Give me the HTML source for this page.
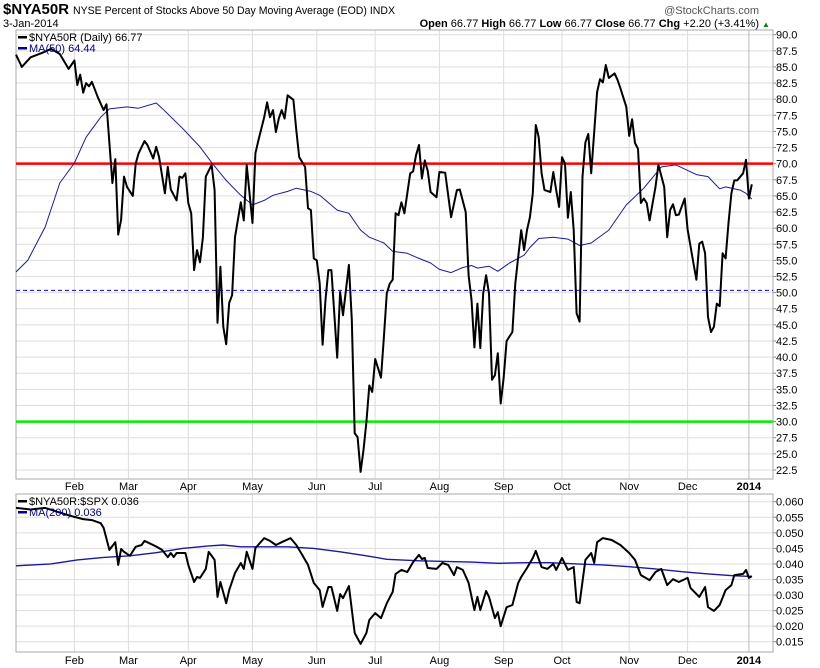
<!DOCTYPE html>
<html><head><meta charset="utf-8">
<style>
body{margin:0;background:#fff;}
svg{display:block;font-family:"Liberation Sans",sans-serif;}
</style></head>
<body>
<svg id="chart" width="820" height="668" viewBox="0 0 820 668" xmlns="http://www.w3.org/2000/svg">
<rect width="820" height="668" fill="#fff"/>
<g>
<text x="3" y="14" font-size="15" font-weight="bold" textLength="66" lengthAdjust="spacingAndGlyphs">$NYA50R</text>
<text x="73" y="14" font-size="11" textLength="322" lengthAdjust="spacingAndGlyphs">NYSE Percent of Stocks Above 50 Day Moving Average (EOD) INDX</text>
<text x="759" y="14" font-size="11" fill="#555" text-anchor="end">@StockCharts.com</text>
<text x="3" y="27" font-size="11">3-Jan-2014</text>
<text x="759" y="27" font-size="11" text-anchor="end"><tspan font-weight="bold">Open</tspan> 66.77 <tspan font-weight="bold">High</tspan> 66.77 <tspan font-weight="bold">Low</tspan> 66.77 <tspan font-weight="bold">Close</tspan> 66.77 <tspan font-weight="bold">Chg</tspan> +2.20 (+3.41%)</text>
<text x="762" y="27" font-size="8" fill="#080">▲</text>
</g>
<g id="main"></g>
<g id="lower"></g>
</svg>
<script>
// main panel data (trading-day index, value)
const mainDays=[0,2,5,9,12,15,18,20,21,22,23,24,25,26,28,30,31,33,34,35,36,37,38,40,41,42,44,45,47,48,49,51,52,53,55,56,57,58,59,60,61,62,63,64,65,67,68,69,70,71,72,73,74,75,77,78,79,81,82,83,85,86,87,88,89,90,91,92,93,95,96,97,99,100,101,102,103,104,105,106,107,108,110,111,112,114,115,116,117,118,119,120,121,122,123,125,126,127,128,129,130,131,132,133,135,136,137,138,139,140,141,142,144,145,147,149,151,152,154,155,156,157,158,159,160,161,162,163,164,165,166,167,168,170,171,172,173,174,175,176,177,178,179,180,181,183,184,185,186,187,188,189,190,191,192,193,194,195,196,197,199,200,201,202,203,205,206,207,209,210,211,212,213,214,215,216,217,219,220,222,223,224,225,226,227,229,230,232,233,234,235,236,237,238,239,240,241,242,243,244,245,246,247,249,250,251,252];
const mainVals=[86.9,85.0,86.5,87.2,87.8,87.0,84.7,86.0,82.2,83.8,81.0,82.5,82.0,82.7,80.3,78.3,79.2,67.0,70.7,59.0,61.3,68.0,66.4,65.0,70.0,71.6,73.5,72.9,70.8,72.6,71.0,65.4,69.5,66.0,64.3,68.0,67.8,68.5,63.9,62.3,53.5,56.6,54.7,58.6,68.0,69.8,65.9,45.3,54.0,44.7,42.0,48.4,49.6,58.6,64.0,61.2,69.8,60.8,71.6,73.6,77.2,79.5,77.2,78.3,74.9,77.0,78.3,77.0,80.6,79.9,75.2,71.0,69.5,63.1,62.8,55.3,55.0,51.4,41.9,48.9,53.5,53.5,39.9,50.1,46.5,54.3,45.8,28.2,27.6,22.2,25.6,29.9,35.6,34.6,39.7,36.8,43.1,49.9,51.4,52.0,62.3,62.0,64.0,62.3,68.5,68.8,71.3,72.9,67.7,70.5,68.9,65.6,64.8,68.7,68.6,61.7,65.9,66.0,62.5,52.7,48.9,41.5,48.3,41.4,49.9,52.7,49.9,36.5,37.2,40.6,32.8,36.7,42.5,43.9,51.4,55.5,59.7,56.6,59.7,61.7,65.4,76.0,74.1,68.5,65.9,65.6,68.7,65.9,63.3,71.0,70.0,61.6,65.6,59.7,46.8,45.5,68.0,73.3,74.6,68.5,81.1,83.1,82.6,85.3,83.3,84.0,83.0,81.7,78.8,74.3,76.9,73.2,72.3,63.9,64.6,63.9,61.2,66.4,69.8,66.4,58.6,62.8,63.7,62.0,62.1,64.6,59.8,54.6,52.0,57.6,57.9,56.1,46.2,43.9,44.7,48.3,47.9,56.1,55.3,60.8,65.4,67.4,67.4,68.5,70.6,64.6,66.8];
const maDays=[0,4,10,15,20,24,29,32,38,42,48,50,57,63,67,72,77,81,85,88,93,96,101,104,110,114,118,121,126,129,134,138,142,145,149,153,156,158,162,165,169,174,176,179,184,189,193,197,203,209,215,221,226,233,237,241,243,248,250,252];
const maVals=[53.2,55,60.2,67,70.1,74.1,77.2,78.5,78.8,78.6,79.4,78.6,75.5,72.6,70.2,67.4,65.1,63.6,64.3,65.1,65.7,66.2,65.7,65.1,62.8,62.3,59.7,58.6,57.7,56.4,56.1,55.3,54.6,53.6,53.1,53.9,54.2,53.8,54.1,53.3,54.6,55.8,57,58.4,58.6,58.3,57.3,57.7,59.7,63.6,66.2,69.5,69.8,68.3,68,66.1,66.4,65.9,65.4,64.5];
const mainTicks=["90.0","87.5","85.0","82.5","80.0","77.5","75.0","72.5","70.0","67.5","65.0","62.5","60.0","57.5","55.0","52.5","50.0","47.5","45.0","42.5","40.0","37.5","35.0","32.5","30.0","27.5","25.0","22.5"];
const refLines=[70,50.35,30];
// lower panel data
const lowDays=[0,5,10,15,20,23,26,29,30,32,34,35,36,37,39,41,43,44,46,48,50,52,53,54,55,58,59,61,62,63,65,66,68,69,70,72,73,75,77,78,79,81,82,85,87,89,91,94,96,98,100,102,104,105,107,108,110,111,112,114,116,118,120,121,123,125,127,129,130,132,134,136,138,139,140,141,144,146,148,150,151,153,155,157,158,159,161,162,164,165,166,168,170,172,173,175,177,178,180,182,184,185,187,189,191,192,193,195,197,198,199,201,204,207,210,212,214,217,219,221,223,225,227,230,231,234,236,237,239,241,243,245,246,249,250,251,252];
const lowVals=[0.058,0.0575,0.058,0.0565,0.0551,0.0544,0.0541,0.0531,0.0516,0.0445,0.047,0.0397,0.0448,0.0439,0.0426,0.0455,0.0461,0.0474,0.0465,0.0456,0.0445,0.0422,0.0435,0.0422,0.0435,0.0435,0.0397,0.0342,0.0358,0.0355,0.0384,0.0439,0.0413,0.0294,0.0342,0.0274,0.0316,0.0371,0.0403,0.0384,0.0439,0.0384,0.0451,0.0483,0.0474,0.0461,0.047,0.0483,0.0461,0.0429,0.0397,0.0339,0.0316,0.0262,0.0326,0.0326,0.0249,0.0303,0.029,0.0329,0.0178,0.0143,0.0178,0.022,0.0242,0.0226,0.0274,0.031,0.0368,0.0381,0.0374,0.0406,0.0429,0.0416,0.0419,0.0387,0.0384,0.0403,0.0397,0.0364,0.039,0.0381,0.0339,0.0252,0.0294,0.0252,0.0313,0.0294,0.0226,0.0245,0.02,0.0261,0.0268,0.0339,0.0358,0.0387,0.0419,0.0442,0.039,0.0384,0.04,0.0381,0.0419,0.0381,0.039,0.0278,0.0274,0.0413,0.0435,0.0403,0.047,0.0483,0.0477,0.0461,0.0435,0.0413,0.0364,0.0348,0.0374,0.0384,0.0332,0.0351,0.0342,0.0355,0.0323,0.0294,0.0326,0.0261,0.0249,0.0268,0.0316,0.0332,0.0364,0.0368,0.0381,0.0355,0.0361];
const lowMaDays=[0,12,21,30,39,48,57,66,71,77,84,93,102,111,120,127,138,156,165,174,183,192,201,210,219,228,237,246,252];
const lowMaVals=[0.0394,0.040,0.0413,0.0421,0.0426,0.0436,0.045,0.0458,0.0461,0.0455,0.0455,0.0455,0.045,0.0439,0.0426,0.0415,0.041,0.0406,0.0402,0.0404,0.0404,0.04,0.0397,0.0391,0.0384,0.0375,0.0368,0.0362,0.036];
const lowTicks=["0.060","0.055","0.050","0.045","0.040","0.035","0.030","0.025","0.020","0.015"];
// x axis
const monthLabels=["Feb","Mar","Apr","May","Jun","Jul","Aug","Sep","Oct","Nov","Dec","2014"];
const monthDays=[20,38.5,59,81,103,123,145,167,187,210,230,251];

const NS="http://www.w3.org/2000/svg";
const X0=16,X1=773,DX=2.92;
const xs=d=>X0+d*DX;
const yMain=v=>34.7+(90-v)*6.448;
const yLow=v=>501.7+(0.060-v)*3112;
function mk(tag,attrs,parent,text){const e=document.createElementNS(NS,tag);for(const k in attrs)e.setAttribute(k,attrs[k]);if(text!==undefined)e.textContent=text;parent.appendChild(e);return e;}

function panel(g,top,bottom,ticks,yf,labelY){
  // horizontal grid
  ticks.forEach(t=>{const y=yf(parseFloat(t));
    const l=mk('line',{x1:X0,x2:X1,y1:y,y2:y,stroke:'#dddddd','stroke-width':1},g);
    
    
    const tk=mk('line',{x1:X1,x2:X1+3,y1:y,y2:y,stroke:'#888'},g);
    
    
    const tx=mk('text',{x:X1+3,y:y+4,'font-size':11},g,t);
    
    
  });
  monthDays.forEach((d,i)=>{const x=xs(d);
    const l=mk('line',{x1:x,x2:x,y1:top,y2:bottom,stroke:i==monthDays.length-1?'#bbbbbb':'#dddddd'},g);
    
    
    const t=mk('text',{x:x,y:labelY,'font-size':11,'text-anchor':'middle','font-weight':i==monthDays.length-1?'bold':'normal'},g,monthLabels[i]);
    
    
  });
  const b=mk('rect',{x:X0,y:top,width:X1-X0,height:bottom-top,fill:'none',stroke:'#aaaaaa'},g);
  
  
}
function line(g,days,vals,yf,color,w,name){
  const p=days.map((d,i)=>(i?'L':'M')+xs(d).toFixed(1)+','+yf(vals[i]).toFixed(1)).join('');
  const e=mk('path',{d:p,fill:'none',stroke:color,'stroke-width':w,'stroke-linejoin':'round'},g);
  
  
}
const gm=document.getElementById('main');


panel(gm,30,479,mainTicks,yMain,490);
const rc=['#ff0000','#0000ff','#00ee00'];
refLines.forEach((v,i)=>{const y=yMain(v);
  const l=mk('line',{x1:X0,x2:X1,y1:y,y2:y,stroke:rc[i],'stroke-width':i==1?1:2.5,'stroke-dasharray':i==1?'4,3':'none'},gm);
  
  
});
line(gm,maDays,maVals,yMain,'#1a1aa0',1,'ma50-line');
line(gm,mainDays,mainVals,yMain,'#000',2,'nya50r-line');
const gl=document.getElementById('lower');


panel(gl,494,652,lowTicks,yLow,664);
line(gl,lowMaDays,lowMaVals,yLow,'#1a1aa0',1.4,'ma200-line');
line(gl,lowDays,lowVals,yLow,'#000',2,'ratio-line');
// legends
function legend(g,y,color,text,name){
  const r=mk('rect',{x:18,y:y-5,width:9,height:2.5,fill:color},g);
  
  
  const bg=mk('text',{x:29,y:y,'font-size':11,fill:color},g,text);
  
  
}
legend(gm,41,'#000','$NYA50R (Daily) 66.77','legend-nya50r');
legend(gm,52,'#00008b','MA(50) 64.44','legend-ma50');
legend(gl,505,'#000','$NYA50R:$SPX 0.036','legend-ratio');
legend(gl,516,'#00008b','MA(200) 0.036','legend-ma200');
</script>
</body></html>
